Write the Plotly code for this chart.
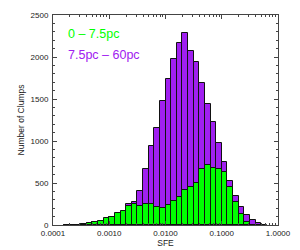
import math
import plotly.graph_objects as go

# log10(SFE) bin centres, 0.1 dex bins from 1e-4 to 1
log_sfe_bins = [round(-3.95 + 0.1 * i, 2) for i in range(40)]

# counts per bin, 0 - 7.5pc (green)
inner_counts = [0, 0, 2, 3, 5, 12, 24, 36, 48, 83,
                99, 139, 163, 230, 246, 226, 254, 256, 212, 199,
                236, 286, 337, 417, 456, 496, 667, 714, 683, 667,
                627, 456, 277, 127, 39, 5, 0, 0, 0, 0]

# counts per bin, 7.5pc - 60pc (purple)
outer_counts = [0, 0, 1, 2, 4, 10, 20, 30, 40, 75,
                90, 130, 160, 245, 274, 408, 663, 944, 1150, 1476,
                1734, 1980, 2167, 2286, 2068, 1940, 1687, 1437, 1222, 980,
                745, 524, 345, 218, 119, 60, 20, 4, 0, 0]

x_tick_vals = [-4, -3, -2, -1, 0]
x_tick_text = ["0.0001", "0.0010", "0.0100", "0.1000", "1.0000"]
x_minor_vals = [math.log10(k * 10.0 ** n) for n in range(-4, 0) for k in range(2, 10)]

y_tick_vals = [0, 500, 1000, 1500, 2000, 2500]

labels = ["0 \u2013 7.5pc", "7.5pc \u2013 60pc"]
colors = ["#00ff00", "#a020f0"]

font_family = "Liberation Sans, Arial, Helvetica, sans-serif"

fig = go.Figure()
fig.add_trace(go.Bar(
    x=log_sfe_bins, y=[v if v > 0 else None for v in outer_counts], width=0.1,
    marker=dict(color=colors[1], line=dict(color="#111111", width=1)),
    name=labels[1], showlegend=False,
))
fig.add_trace(go.Bar(
    x=log_sfe_bins, y=[v if v > 0 else None for v in inner_counts], width=0.1,
    marker=dict(color=colors[0], line=dict(color="#111111", width=1)),
    name=labels[0], showlegend=False,
))

fig.update_layout(
    width=300, height=250,
    margin=dict(l=53, r=22, t=15, b=25),
    paper_bgcolor="white", plot_bgcolor="white",
    barmode="overlay", bargap=0,
    font=dict(family=font_family, size=8, color="#222222"),
    xaxis=dict(
        range=[-4, 0], tickmode="array", tickvals=x_tick_vals, ticktext=x_tick_text,
        ticks="inside", ticklen=4, tickwidth=1, tickcolor="#444444",
        showline=True, linecolor="#444444", linewidth=1, mirror="ticks",
        showgrid=False, zeroline=False,
        minor=dict(tickmode="array", tickvals=x_minor_vals, ticks="inside",
                   ticklen=2, tickcolor="#444444", showgrid=False),
        title=dict(text="SFE", font=dict(size=8.5), standoff=1),
        tickfont=dict(size=8),
        automargin=False,
    ),
    yaxis=dict(
        range=[0, 2500], tickmode="array", tickvals=y_tick_vals,
        ticks="inside", ticklen=4, tickwidth=1, tickcolor="#444444",
        showline=True, linecolor="#444444", linewidth=1, mirror="ticks",
        showgrid=False, zeroline=False,
        minor=dict(dtick=100, ticks="inside", ticklen=2, tickcolor="#444444", showgrid=False),
        title=dict(text="Number of Clumps", font=dict(size=8.5), standoff=4),
        tickfont=dict(size=8),
        ticklabelstandoff=2,
        automargin=False,
    ),
)

# legend labels placed in data coordinates (upper-left of the plot)
fig.add_annotation(x=-3.77, y=2270, xref="x", yref="y", text=labels[0],
                   showarrow=False, xanchor="left", yanchor="middle",
                   font=dict(size=12.5, color=colors[0], family=font_family))
fig.add_annotation(x=-3.77, y=2020, xref="x", yref="y", text=labels[1],
                   showarrow=False, xanchor="left", yanchor="middle",
                   font=dict(size=12.5, color=colors[1], family=font_family))

fig.write_html("out.html", config={"displayModeBar": False},
               post_script="document.body.style.margin='0';")
